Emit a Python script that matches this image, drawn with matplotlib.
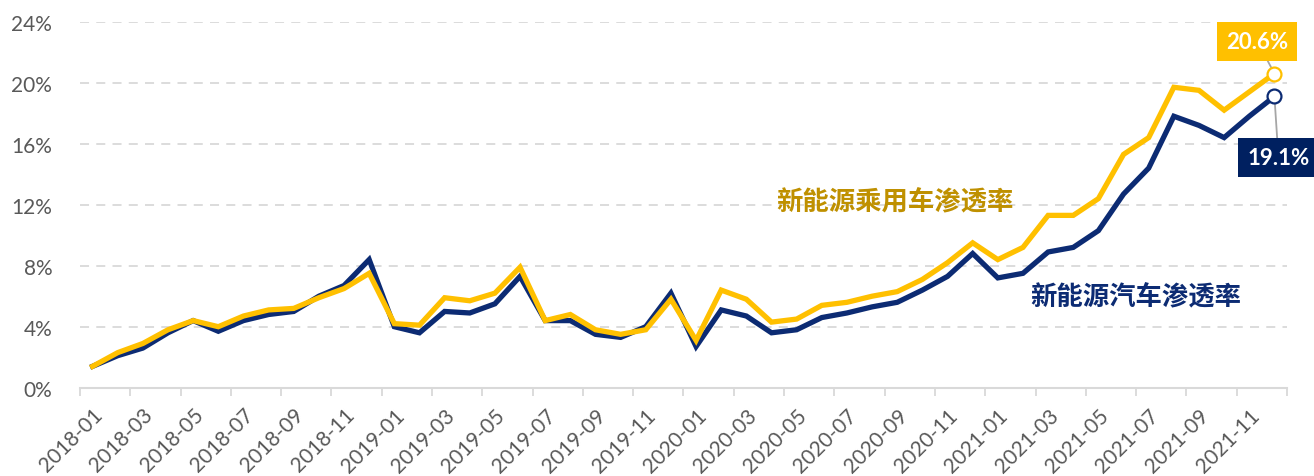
import matplotlib
matplotlib.use("Agg")
import matplotlib.pyplot as plt
import numpy as np
import pandas as pd

plt.rcParams['font.family'] = ['Lato', 'DejaVu Sans']

# monthly categories 2018-01 .. 2021-12
months = pd.date_range('2018-01-01', periods=48, freq='MS').strftime('%Y-%m').tolist()

# 新能源汽车渗透率 (%)
nev_all = [1.4, 2.1, 2.6, 3.6, 4.4, 3.7, 4.4, 4.8, 5.0, 6.0, 6.7, 8.4,
           4.0, 3.6, 5.0, 4.9, 5.5, 7.3, 4.4, 4.4, 3.5, 3.3, 4.0, 6.2,
           2.7, 5.1, 4.7, 3.6, 3.8, 4.6, 4.9, 5.3, 5.6, 6.4, 7.3, 8.8,
           7.2, 7.5, 8.9, 9.2, 10.3, 12.7, 14.4, 17.8, 17.2, 16.4, 17.8, 19.1]
# 新能源乘用车渗透率 (%)
nev_pc = [1.4, 2.3, 2.9, 3.8, 4.4, 4.0, 4.7, 5.1, 5.2, 5.9, 6.5, 7.5,
          4.2, 4.1, 5.9, 5.7, 6.2, 7.9, 4.4, 4.8, 3.8, 3.5, 3.8, 5.8,
          3.1, 6.4, 5.8, 4.3, 4.5, 5.4, 5.6, 6.0, 6.3, 7.1, 8.2, 9.5,
          8.4, 9.2, 11.3, 11.3, 12.4, 15.3, 16.4, 19.7, 19.5, 18.2, 19.4, 20.6]

navy = '#0c2b73'
gold = '#ffc000'
grey_txt = '#595959'
grid_c = '#d9d9d9'

fig = plt.figure(figsize=(13.14, 4.77), dpi=100)
ax = fig.add_axes([80 / 1314, 1 - 388.7 / 477, 1207 / 1314, 366 / 477])

x = np.arange(len(months))
ax.plot(x, nev_all, color=navy, lw=3.8, solid_joinstyle='miter', zorder=3)
ax.plot(x, nev_pc, color=gold, lw=3.8, solid_joinstyle='miter', zorder=4)

# end markers
ax.plot(x[-1], nev_pc[-1], 'o', ms=10, mfc='white', mec=gold, mew=1.6, zorder=7)
ax.plot(x[-1], nev_all[-1], 'o', ms=10, mfc='white', mec=navy, mew=1.6, zorder=7)

ax.set_xlim(-0.5, len(months) - 0.5)
ax.set_ylim(0, 24)
ax.set_yticks(np.arange(0, 25, 4))
ax.set_yticklabels([f'{v}%' for v in range(0, 25, 4)], fontsize=15, color=grey_txt)
ax.tick_params(axis='y', length=0, pad=20)

# category labels at centres, tick marks at boundaries
ax.set_xticks(x[::2])
ax.set_xticklabels(months[::2], rotation=45, ha='right', rotation_mode='anchor',
                   fontsize=15, color=grey_txt)
ax.tick_params(axis='x', which='major', length=0, pad=12)
ax.set_xticks(np.arange(-0.5, len(months), 2), minor=True)
ax.tick_params(axis='x', which='minor', length=6, width=1.3, color=grid_c)

for s in ['left', 'right', 'top']:
    ax.spines[s].set_visible(False)
ax.spines['bottom'].set_color(grid_c)
ax.spines['bottom'].set_linewidth(1.5)

for v in range(4, 25, 4):
    ax.axhline(v, color=grid_c, lw=1.3, ls=(0, (5, 4)), zorder=1)

# series names
ax.text(31.9, 12.18, '新能源乘用车渗透率', color='#bf9000', fontsize=19, fontweight='bold',
        family=['Noto Sans CJK SC'], ha='center', va='center')
ax.text(41.5, 5.95, '新能源汽车渗透率', color=navy, fontsize=19, fontweight='bold',
        family=['Noto Sans CJK SC'], ha='center', va='center')

# value call-outs
ax.annotate(f'{nev_pc[-1]:.1f}%', xy=(x[-1], nev_pc[-1]), xytext=(-17, 32),
            textcoords='offset pixels', ha='center', va='center',
            fontsize=16, fontweight='bold', color='white', annotation_clip=False,
            bbox=dict(boxstyle='square,pad=0.4', fc=gold, ec='none'),
            arrowprops=dict(arrowstyle='-', color='#a6a6a6', lw=1.3, shrinkA=0, shrinkB=0),
            zorder=6)
ax.annotate(f'{nev_all[-1]:.1f}%', xy=(x[-1], nev_all[-1]), xytext=(4, -61),
            textcoords='offset pixels', ha='center', va='center',
            fontsize=16, fontweight='bold', color='white', annotation_clip=False,
            bbox=dict(boxstyle='square,pad=0.4', fc='#002060', ec='none'),
            arrowprops=dict(arrowstyle='-', color='#a6a6a6', lw=1.3, shrinkA=0, shrinkB=0),
            zorder=6)

fig.savefig('out.png', dpi=100)
